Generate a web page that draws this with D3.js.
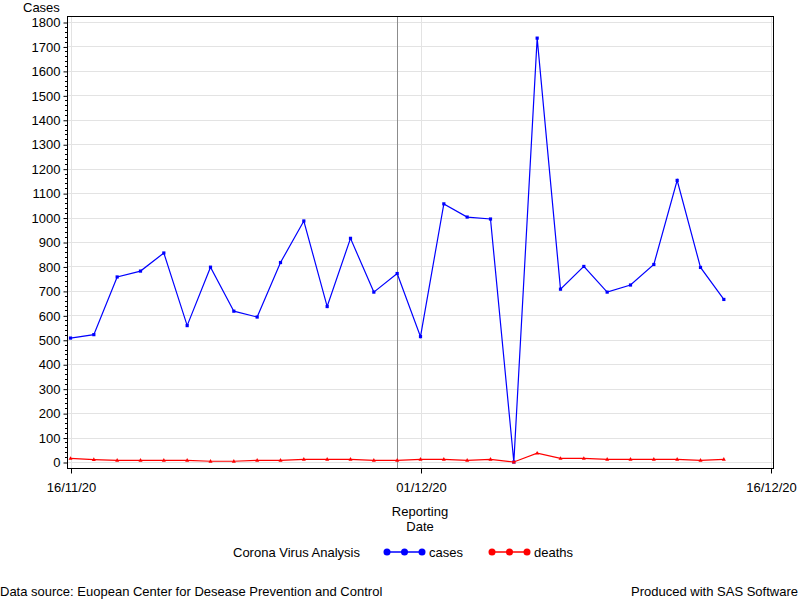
<!DOCTYPE html>
<html>
<head>
<meta charset="utf-8">
<script src="https://cdn.jsdelivr.net/npm/d3@7"></script>
<style>
  body { margin: 0; background: #fff; }
  svg { font-family: "Liberation Sans", Arial, sans-serif; }
</style>
</head>
<body>
<svg id="chart" width="800" height="600"></svg>
<script>
// ---- data ----
const dates = [
  "16/11/20","17/11/20","18/11/20","19/11/20","20/11/20","21/11/20","22/11/20","23/11/20",
  "24/11/20","25/11/20","26/11/20","27/11/20","28/11/20","29/11/20","30/11/20","01/12/20",
  "02/12/20","03/12/20","04/12/20","05/12/20","06/12/20","07/12/20","08/12/20","09/12/20",
  "10/12/20","11/12/20","12/12/20","13/12/20","14/12/20"
];
const cases = [507, 521, 757, 781, 855, 558, 797, 617, 593, 816, 986, 636, 915, 695, 771, 513,
               1056, 1002, 994, 0, 1734, 707, 800, 695, 724, 808, 1152, 796, 665];
const deaths = [15, 10, 7, 7, 7, 7, 3, 3, 7, 7, 11, 11, 11, 7, 7, 11,
                11, 7, 11, 0, 36, 15, 15, 11, 11, 11, 11, 7, 11];
const xTickLabels = ["16/11/20", "01/12/20", "16/12/20"];
const yTicks = d3.range(0, 1801, 100);
const refDate = "30/11/20";
const seriesNames = ["cases", "deaths"];
const seriesColors = ["#0000ff", "#ff0000"];

// ---- setup ----
const FS = 13;
const parse = d3.timeParse("%d/%m/%y");
const svg = d3.select("#chart");
const frame = { left: 67, top: 16, right: 773, bottom: 468 };

const x = d3.scaleTime()
  .domain([parse(xTickLabels[0]), parse(xTickLabels[2])])
  .range([70.5, 770.5]);
const y = d3.scaleLinear().domain([0, 1800]).range([462, 22]);

const xTicks = xTickLabels.map(parse);

// gridlines
const grid = svg.append("g");
grid.selectAll("line.h").data(yTicks).enter().append("line")
  .attr("x1", frame.left).attr("x2", frame.right)
  .attr("y1", d => Math.round(y(d)) + 0.5).attr("y2", d => Math.round(y(d)) + 0.5)
  .attr("stroke", "#e3e3e3").attr("stroke-width", 1);
grid.selectAll("line.v").data(xTicks).enter().append("line")
  .attr("x1", d => Math.round(x(d)) + 0.5).attr("x2", d => Math.round(x(d)) + 0.5)
  .attr("y1", frame.top).attr("y2", frame.bottom)
  .attr("stroke", "#e3e3e3").attr("stroke-width", 1);

// reference line
svg.append("line")
  .attr("x1", Math.round(x(parse(refDate))) + 0.5).attr("x2", Math.round(x(parse(refDate))) + 0.5)
  .attr("y1", frame.top).attr("y2", frame.bottom)
  .attr("stroke", "#8c8c8c").attr("stroke-width", 1);

// series
const seriesData = [cases, deaths];
seriesData.forEach((vals, si) => {
  const pts = vals.map((v, i) => ({ d: parse(dates[i]), v }));
  const line = d3.line().x(p => x(p.d)).y(p => y(p.v));
  svg.append("path").datum(pts)
    .attr("d", line).attr("fill", "none")
    .attr("stroke", seriesColors[si]).attr("stroke-width", 1.2);
  if (si === 0) {
    svg.selectAll(null).data(pts).enter().append("rect")
      .attr("x", p => x(p.d) - 1.6).attr("y", p => y(p.v) - 1.6)
      .attr("width", 3.2).attr("height", 3.2)
      .attr("fill", seriesColors[si]);
  } else {
    svg.selectAll(null).data(pts).enter().append("path")
      .attr("d", p => `M${x(p.d)},${y(p.v) - 2.2}L${x(p.d) + 2},${y(p.v) + 1.4}L${x(p.d) - 2},${y(p.v) + 1.4}Z`)
      .attr("fill", seriesColors[si]);
  }
});

// frame
svg.append("rect")
  .attr("x", frame.left + 0.5).attr("y", frame.top + 0.5)
  .attr("width", frame.right - frame.left).attr("height", frame.bottom - frame.top)
  .attr("fill", "none").attr("stroke", "#000").attr("stroke-width", 1);

// y axis
const yAxis = d3.axisLeft(y).tickValues(yTicks).tickSize(4).tickPadding(3).tickFormat(d3.format("d"));
const yg = svg.append("g").attr("transform", `translate(${frame.left + 0.5},0.5)`).call(yAxis);
yg.select(".domain").remove();
yg.selectAll("text").attr("font-size", FS).attr("fill", "#000").attr("font-family", "Liberation Sans, Arial, sans-serif");
// minor ticks
const minor = d3.range(0, 1800, 20).filter(v => v % 100 !== 0);
svg.append("g").selectAll("line").data(minor).enter().append("line")
  .attr("x1", frame.left - 2).attr("x2", frame.left)
  .attr("y1", d => Math.round(y(d)) + 0.5).attr("y2", d => Math.round(y(d)) + 0.5)
  .attr("stroke", "#000");

// x axis
const xAxis = d3.axisBottom(x).tickValues(xTicks).tickSize(5).tickPadding(9)
  .tickFormat(d3.timeFormat("%d/%m/%y"));
const xg = svg.append("g").attr("transform", `translate(0.5,${frame.bottom + 0.5})`).call(xAxis);
xg.select(".domain").remove();
xg.selectAll("text").attr("font-size", FS).attr("fill", "#000").attr("font-family", "Liberation Sans, Arial, sans-serif");

// axis labels
svg.append("text").attr("x", 23).attr("y", 12).attr("font-size", FS).text("Cases");
svg.append("text").attr("x", 420).attr("y", 516).attr("text-anchor", "middle").attr("font-size", FS).text("Reporting");
svg.append("text").attr("x", 420).attr("y", 531).attr("text-anchor", "middle").attr("font-size", FS).text("Date");

// legend
const ly = 552;
svg.append("text").attr("x", 233).attr("y", ly + 4.5).attr("font-size", FS).text("Corona Virus Analysis");
const legX = [387, 492];
seriesNames.forEach((name, i) => {
  const g = svg.append("g");
  g.append("line").attr("x1", legX[i]).attr("x2", legX[i] + 35).attr("y1", ly).attr("y2", ly)
    .attr("stroke", seriesColors[i]).attr("stroke-width", 1.5);
  [0, 17.5, 35].forEach(dx => {
    g.append("circle").attr("cx", legX[i] + dx).attr("cy", ly).attr("r", 3.5).attr("fill", seriesColors[i]);
  });
  g.append("text").attr("x", legX[i] + 42).attr("y", ly + 4.5).attr("font-size", FS).text(name);
});

// footnotes
svg.append("text").attr("x", 0).attr("y", 596).attr("font-size", FS)
  .text("Data source: Euopean Center for Desease Prevention and Control");
svg.append("text").attr("x", 798).attr("y", 596).attr("text-anchor", "end").attr("font-size", FS)
  .text("Produced with SAS Software");
</script>
</body>
</html>
